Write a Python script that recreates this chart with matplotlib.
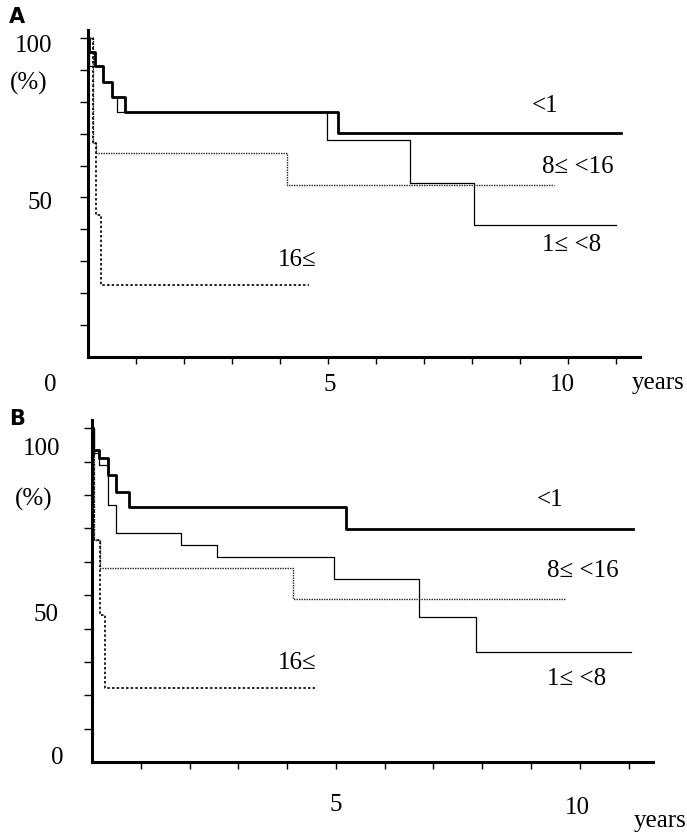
import matplotlib
matplotlib.use("Agg")
import matplotlib.pyplot as plt

W, H = 687, 835
SERIF = ["Liberation Serif", "DejaVu Serif"]

# ---- panel A (years, % surviving) ----
a_lt1_t = [0, 0.02, 0.15, 0.31, 0.50, 0.77, 5.2, 11.1]
a_lt1_s = [100, 95.6, 91.2, 86.2, 81.5, 76.8, 70.2, 70.2]
a_1to8_t = [0, 0.02, 0.31, 0.50, 0.60, 4.97, 6.7, 8.04, 11.0]
a_1to8_s = [100, 91.2, 86.2, 81.5, 76.8, 68.0, 54.5, 41.4, 41.4]
a_8to16_t = [0, 0.10, 0.17, 4.15, 9.7]
a_8to16_s = [100, 67.0, 63.9, 53.9, 53.9]
a_16_t = [0, 0.10, 0.17, 0.28, 4.6]
a_16_s = [100, 67.0, 44.5, 22.6, 22.6]

# ---- panel B ----
b_lt1_t = [0, 0.03, 0.15, 0.33, 0.49, 0.76, 5.2, 11.1]
b_lt1_s = [100, 93.4, 91.0, 85.9, 80.8, 76.3, 69.8, 69.8]
b_1to8_t = [0, 0.04, 0.15, 0.33, 0.49, 1.83, 2.57, 4.97, 6.71, 7.88, 11.05]
b_1to8_s = [100, 92.5, 88.9, 76.9, 68.6, 65.0, 61.4, 54.8, 43.4, 32.9, 32.9]
b_8to16_t = [0, 0.04, 0.16, 4.12, 9.7]
b_8to16_s = [100, 66.5, 58.1, 48.8, 48.8]
b_16_t = [0, 0.04, 0.16, 0.27, 4.58]
b_16_s = [100, 66.5, 44.0, 22.2, 22.2]

group_labels = ["<1", "1\u2264 <8", "8\u2264 <16", "16\u2264"]


def fpos(x, y):
    return x / W, 1 - y / H


def ftext(fig, x, y, s, **kw):
    fx, fy = fpos(x, y)
    fig.text(fx, fy, s, ha="center", va="center", family=SERIF, fontsize=18, **kw)


def draw_panel(ax, curves):
    (t1, s1), (t2, s2), (t3, s3), (t4, s4) = curves
    ax.step(t1, s1, where="post", color="black", lw=2.0)
    ax.step(t2, s2, where="post", color="black", lw=0.9)
    ax.step(t3, s3, where="post", color="#222222", lw=1.0, ls=(0, (1, 0.8)))
    ax.step(t4, s4, where="post", color="black", lw=1.2, ls=(0, (1.5, 1.3)))
    ax.set_xlim(0, 11.5)
    ax.set_ylim(0, 102.5)
    ax.set_xticks(range(1, 12))
    ax.set_yticks(range(10, 101, 10))
    ax.set_xticklabels([])
    ax.set_yticklabels([])
    ax.tick_params(axis="x", direction="out", length=5, width=1)
    ax.tick_params(axis="y", direction="out", length=6, width=1)
    for sp in ["top", "right"]:
        ax.spines[sp].set_visible(False)
    for sp in ["left", "bottom"]:
        ax.spines[sp].set_linewidth(2.2)


fig = plt.figure(figsize=(W / 100, H / 100), dpi=100)

axA = fig.add_axes([88 / W, 1 - 357 / H, 552 / W, 327 / H])
draw_panel(axA, [(a_lt1_t, a_lt1_s), (a_1to8_t, a_1to8_s),
                 (a_8to16_t, a_8to16_s), (a_16_t, a_16_s)])

axB = fig.add_axes([92 / W, 1 - 762 / H, 561 / W, 342 / H])
draw_panel(axB, [(b_lt1_t, b_lt1_s), (b_1to8_t, b_1to8_s),
                 (b_8to16_t, b_8to16_s), (b_16_t, b_16_s)])

# panel letters
fx, fy = fpos(17, 17)
fig.text(fx, fy, "A", ha="center", va="center", fontsize=15, fontweight="bold", family="DejaVu Sans")
fx, fy = fpos(17, 419)
fig.text(fx, fy, "B", ha="center", va="center", fontsize=15, fontweight="bold", family="DejaVu Sans")

# panel A axis text
ftext(fig, 34, 46, "100")
ftext(fig, 29, 83, "(%)")
ftext(fig, 40, 203, "50")
ftext(fig, 50, 385, "0")
ftext(fig, 330, 385, "5")
ftext(fig, 562, 385, "10")
ftext(fig, 658, 383, "years")

# panel A curve labels
ftext(fig, 545, 106, group_labels[0])
ftext(fig, 578, 167, group_labels[2])
ftext(fig, 572, 245, group_labels[1])
ftext(fig, 297, 260, group_labels[3])

# panel B axis text
ftext(fig, 42, 449, "100")
ftext(fig, 34, 499, "(%)")
ftext(fig, 46, 615, "50")
ftext(fig, 57, 758, "0")
ftext(fig, 336, 805, "5")
ftext(fig, 577, 808, "10")
ftext(fig, 660, 821, "years")

# panel B curve labels
ftext(fig, 550, 500, group_labels[0])
ftext(fig, 583, 571, group_labels[2])
ftext(fig, 577, 679, group_labels[1])
ftext(fig, 297, 663, group_labels[3])

fig.savefig("out.png", dpi=100)
